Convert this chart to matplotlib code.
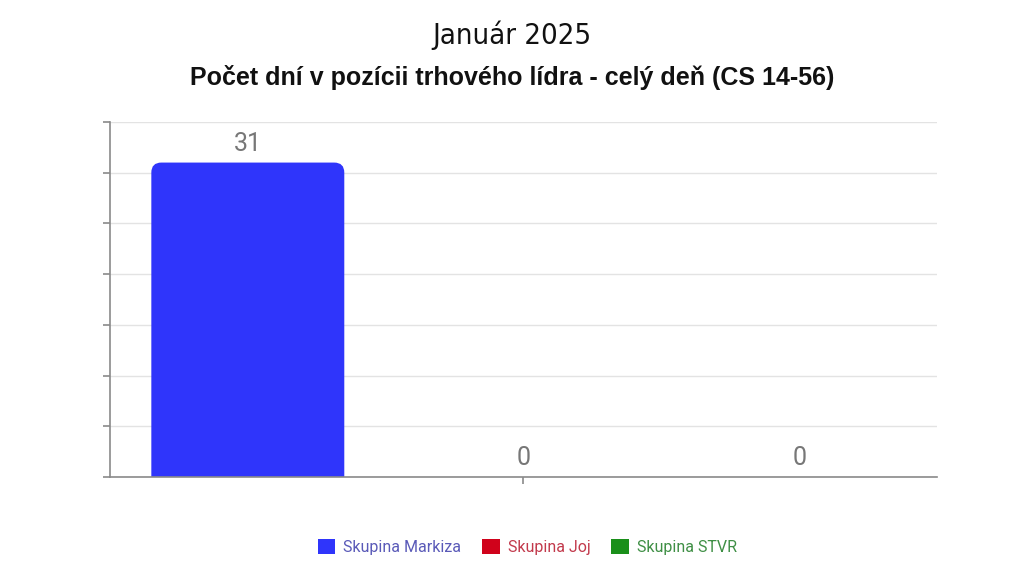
import numpy as np
import matplotlib.pyplot as plt
from matplotlib.patches import FancyBboxPatch, Patch

# data
series = ['Skupina Markiza', 'Skupina Joj', 'Skupina STVR']
values = [31, 0, 0]
bar_colors = ['#2f35fb', '#d0021b', '#1a8f1a']
text_colors = ['#5a5ab8', '#c23a4c', '#3f8f45']
y_ticks = np.arange(0, 36, 5)

fig = plt.figure(figsize=(10.24, 5.76), dpi=100)
ax = fig.add_axes([0.1074, 0.1719, 0.8076, 0.6163])

n = len(series)
x = (np.arange(n) - (n - 1) / 2) / n
width = 0.7 / n
bars = ax.bar(x, values, width=width, color=bar_colors, zorder=2)

ax.set_xlim(-0.5, 0.5)
ax.set_ylim(0, 35)
ax.set_yticks(y_ticks)
ax.set_yticklabels([])
ax.set_xticks([0])
ax.set_xticklabels([])
ax.grid(axis='y', color='#e3e3e3', linewidth=1, zorder=0)
ax.set_axisbelow(True)

for s in ['top', 'right']:
    ax.spines[s].set_visible(False)
for s in ['left', 'bottom']:
    ax.spines[s].set_color('#8a8a8a')
    ax.spines[s].set_linewidth(1.2)
ax.tick_params(axis='y', length=5, color='#8a8a8a', width=1.2)
ax.tick_params(axis='x', length=5, color='#8a8a8a', width=1.2)

# rounded top corners: replace each bar with a rounded box reaching below 0
fig.canvas.draw()
px_x = ax.transData.transform((1, 0))[0] - ax.transData.transform((0, 0))[0]
px_y = ax.transData.transform((0, 1))[1] - ax.transData.transform((0, 0))[1]
r_px = 10
for b in bars:
    h = b.get_height()
    if h <= 0:
        continue
    b.set_visible(False)
    box = FancyBboxPatch((b.get_x(), -2), b.get_width(), h + 2,
                         boxstyle='round,pad=0,rounding_size=%f' % (r_px / px_x),
                         mutation_aspect=px_x / px_y,
                         facecolor=b.get_facecolor(), edgecolor='none',
                         zorder=2, clip_on=True)
    ax.add_patch(box)

for xi, v in zip(x, values):
    ax.annotate(str(v), (xi, v), xytext=(0, 5), textcoords='offset points',
                ha='center', va='bottom', fontsize=18, color='#777777',
                family='Roboto')

fig.text(0.5, 0.938, 'Január 2025', ha='center', va='center',
         fontsize=21, family='DejaVu Sans', fontstretch='condensed',
         color='#111111')
fig.text(0.5, 0.866, 'Počet dní v pozícii trhového lídra - celý deň (CS 14-56)',
         ha='center', va='center', fontsize=18, fontweight='bold',
         family='Liberation Sans', color='#111111')

handles = [Patch(facecolor=c, edgecolor='none') for c in bar_colors]
leg = fig.legend(handles, series, loc='center', bbox_to_anchor=(0.515, 0.05),
                 ncol=3, frameon=False, handlelength=1.1,
                 handleheight=1.1, handletextpad=0.5, columnspacing=1.3,
                 labelcolor=text_colors, prop={'family': 'Roboto', 'size': 11.5})

fig.savefig('out.png', dpi=100, facecolor='white')
